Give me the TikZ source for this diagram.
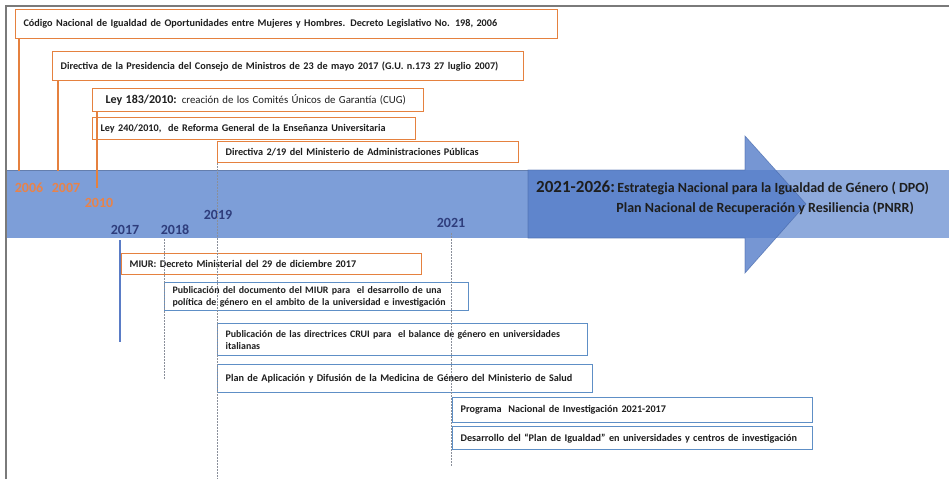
\documentclass[tikz,border=0pt]{standalone}
\usepackage{fontspec}
\setmainfont{Carlito}
\definecolor{orangeb}{HTML}{E5813F}
\definecolor{blueb}{HTML}{5E8FC6}
\definecolor{bandl}{HTML}{7D9ED8}
\definecolor{bandr}{HTML}{8EAADC}
\definecolor{arrowc}{HTML}{547CC9}
\definecolor{yearo}{HTML}{E8834A}
\definecolor{yearb}{HTML}{2E3D7C}
\definecolor{framec}{HTML}{7A7A7A}
\definecolor{txt}{HTML}{1E1E1E}
\definecolor{lineb}{HTML}{5A7CC6}
\definecolor{dotc}{HTML}{8A8F9A}
\begin{document}
\begin{tikzpicture}[x=1pt,y=-1pt,
  ebox/.style={draw=#1, line width=1.2pt, fill=white, anchor=north west,
    inner xsep=8pt, inner ysep=0pt, align=left, text=txt,
    font=\bfseries\fontsize{10.2}{12}\selectfont},
  obox/.style={ebox=orangeb},
  bbox/.style={ebox=blueb},
  fs/.style={font=\bfseries\fontsize{#1}{12}\selectfont},
  yo/.style={text=yearo, font=\bfseries\fontsize{14}{14}\selectfont, inner sep=0pt},
  yb/.style={text=yearb, font=\bfseries\fontsize{14}{14}\selectfont, inner sep=0pt},
  oline/.style={draw=orangeb, line width=1.2pt},
  dline/.style={draw=dotc, line width=0.9pt, dash pattern=on 1.5pt off 1.5pt},
  bline/.style={draw=lineb, line width=1.2pt}]
\useasboundingbox (0,0) rectangle (949,479);
\fill[white] (0,0) rectangle (949,479);
% frame
\draw[framec, line width=1.6pt] (6,479) -- (6,6) -- (949,6);
% band and arrow
\fill[bandl] (7,170) rectangle (528,238);
\fill[bandr] (528,170) rectangle (949,238);
\draw[draw=bandl!80!black, line width=0.6pt] (7,170) -- (528,170);
\filldraw[fill=arrowc, fill opacity=0.8, draw=arrowc!85!black, draw opacity=0.7, line width=0.6pt]
  (528,170) -- (745,170) -- (745,136) -- (806,204) -- (745,273) -- (745,238) -- (528,238) -- cycle;
\node[inner sep=0pt, anchor=west, text=txt, font=\bfseries\fontsize{14}{14}\selectfont] (strat) at (536,188)
  {{\fontsize{17}{17}\selectfont 2021-2026:}\,Estrategia Nacional para la Igualdad de Género ( DPO)};
\node[inner sep=0pt, anchor=east, text=txt, font=\bfseries\fontsize{14}{14}\selectfont] (pnrr) at (914,208)
  {Plan Nacional de Recuperación y Resiliencia (PNRR)};
% upper boxes
\node[obox, fs=10.2, text width=526pt, minimum height=29pt] (b1) at (15,9)
  {\mbox{Código Nacional de Igualdad de Oportunidades entre Mujeres y Hombres. Decreto Legislativo No. 198, 2006}};
\node[obox, fs=10.2, text width=455pt, minimum height=29pt] (b2) at (52,51)
  {\mbox{Directiva de la Presidencia del Consejo de Ministros de 23 de mayo 2017 (G.U. n.173 27 luglio 2007)}};
\node[obox, text width=305pt, minimum height=23pt, inner xsep=13pt, xshift=-5pt] (b3) at (97,88)
  {\mbox{{\fontsize{12}{12}\selectfont Ley 183/2010:} {\mdseries\fontsize{10.8}{12}\selectfont creación de los Comités Únicos de Garantía (CUG)}}};
\node[obox, text width=307pt, minimum height=22pt] (b4) at (92,117)
  {\mbox{Ley 240/2010, \ de Reforma General de la Enseñanza Universitaria}};
\node[obox, text width=285pt, minimum height=21pt] (b5) at (217,141)
  {\mbox{Directiva 2/19 del Ministerio de Administraciones Públicas}};
% lower boxes
\node[obox, text width=284pt, minimum height=21pt] (m1) at (121,253)
  {\mbox{MIUR: Decreto Ministerial del 29 de diciembre 2017}};
\node[bbox, fs=9.9, text width=288pt, minimum height=28pt] (m2) at (164,282)
  {\mbox{Publicación del documento del MIUR para \ el desarrollo de una}\\\mbox{política de género en el ambito de la universidad e investigación}};
\node[bbox, fs=9.9, text width=354pt, minimum height=32pt] (m3) at (217,323)
  {\mbox{Publicación de las directrices CRUI para \ el balance de género en universidades}\\italianas};
\node[bbox, text width=359pt, minimum height=28pt] (m4) at (217,364)
  {\mbox{Plan de Aplicación y Difusión de la Medicina de Género del Ministerio de Salud}};
\node[bbox, text width=344pt, minimum height=25pt] (m5) at (452,397)
  {\mbox{Programa \ Nacional de Investigación 2021-2017}};
\node[bbox, fs=10.2, text width=344pt, minimum height=23pt] (m6) at (452,426)
  {\mbox{Desarrollo del “Plan de Igualdad” en universidades y centros de investigación}};
% years
\node[yo] (y06) at (29,188) {2006};
\node[yo] (y07) at (66,188) {2007};
\node[yo] (y10) at (99,203) {2010};
\node[yb] (y17) at (125,230) {2017};
\node[yb] (y18) at (175,230) {2018};
\node[yb] (y19) at (218,215) {2019};
\node[yb] (y21) at (451,223) {2021};
% connectors
\coordinate (e06) at (19,171);
\coordinate (e07) at (58,171);
\coordinate (e10) at (97,188);
\draw[oline] (b1.south west -| e06) -- (e06);
\draw[oline] (b2.south west -| e07) -- (e07);
\draw[oline] (b3.south west -| e10) -- (e10);
\coordinate (s17) at (120,240);
\coordinate (t17) at (120,342);
\draw[bline] (s17) -- (t17);
\coordinate (s18) at (164,239);
\coordinate (t18) at (164,380);
\draw[dline] (s18) -- (t18);
\coordinate (t19) at (217,479);
\draw[dline] (b5.south west) -- (t19);
\coordinate (s21) at (451,233);
\coordinate (t21) at (451,466);
\draw[dline] (s21) -- (t21);
\end{tikzpicture}
\end{document}
